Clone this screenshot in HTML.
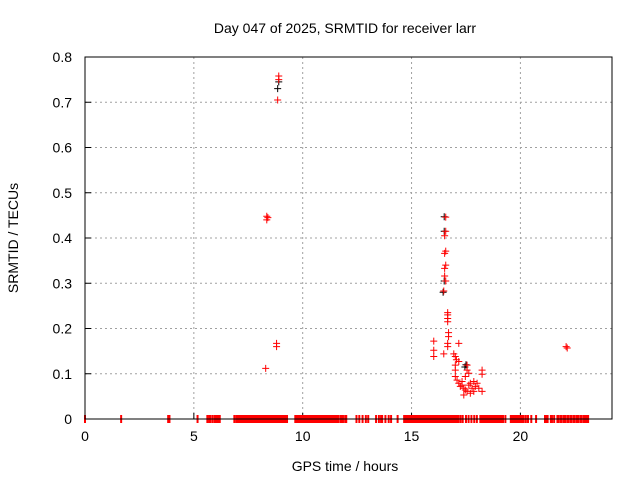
<!DOCTYPE html>
<html><head><meta charset="utf-8"><style>
html,body{margin:0;padding:0;background:#fff;}
svg{display:block;font-family:"Liberation Sans",sans-serif;}
</style></head><body>
<svg id="chart" width="640" height="480" viewBox="0 0 640 480">
<text x="345" y="33" font-size="14" text-anchor="middle">Day 047 of 2025, SRMTID for receiver larr</text>
<text x="345" y="471" font-size="14" text-anchor="middle">GPS time / hours</text>
<text x="18" y="238" font-size="14" text-anchor="middle" transform="rotate(-90 18 238)">SRMTID / TECUs</text>
<g id="grid"></g><g id="ticks"></g><g id="marks"></g>
<rect x="85" y="57" width="527" height="362" fill="none" stroke="#000" stroke-width="1"/>
</svg>
<script>
const xTicks=[0,5,10,15,20];
const yTicks=[0,0.1,0.2,0.3,0.4,0.5,0.6,0.7,0.8];
const yTickLabels=["0","0.1","0.2","0.3","0.4","0.5","0.6","0.7","0.8"];
const blackX=[8.85,8.9,16.5,16.5,16.5,16.45,17.5,17.45];
const blackY=[0.73,0.745,0.447,0.415,0.305,0.28,0.12,0.115];
const redX=[8.3,8.35,8.4,8.35,8.8,8.8,8.85,8.9,8.9,
16.57,16.57,16.52,16.57,16.52,16.57,16.52,16.52,16.57,16.48,16.66,16.66,16.66,16.66,16.70,16.70,16.66,16.66,16.02,16.02,16.02,16.48,17.17,16.94,17.01,17.06,17.01,17.01,17.01,17.09,17.17,17.24,17.32,17.40,17.47,17.40,17.55,17.63,17.70,17.78,17.86,17.93,18.01,18.09,18.24,17.55,17.55,17.63,17.47,18.24,18.24,17.17,17.32,17.70,17.86,22.1,22.15];
const redY=[0.112,0.44,0.445,0.448,0.16,0.167,0.705,0.75,0.758,
0.446,0.415,0.405,0.371,0.366,0.340,0.333,0.316,0.305,0.283,0.235,0.230,0.222,0.215,0.191,0.182,0.167,0.160,0.172,0.152,0.138,0.144,0.167,0.144,0.138,0.131,0.119,0.108,0.094,0.086,0.079,0.072,0.075,0.068,0.064,0.053,0.061,0.075,0.079,0.068,0.061,0.072,0.079,0.068,0.061,0.119,0.108,0.101,0.094,0.108,0.099,0.127,0.083,0.057,0.083,0.16,0.157];
const zeroX=[0,1.66,3.82,3.88,5.17,5.62,5.7,5.75,5.85,5.95,6.0,6.05,6.1,6.15,6.19,6.86,6.95,7.0,7.05,7.1,7.15,7.2,7.25,7.3,7.35,7.4,7.45,7.5,7.55,7.6,7.65,7.7,7.75,7.8,7.85,7.9,7.95,8.0,8.05,8.1,8.15,8.2,8.25,8.3,8.35,8.4,8.45,8.5,8.55,8.6,8.65,8.7,8.75,8.8,8.85,8.9,8.95,9.0,9.05,9.1,9.15,9.2,9.28,9.66,9.7,9.75,9.8,9.85,9.9,9.95,10.0,10.05,10.1,10.15,10.2,10.25,10.3,10.35,10.4,10.45,10.5,10.55,10.6,10.65,10.7,10.75,10.8,10.85,10.9,10.95,11.0,11.05,11.1,11.15,11.2,11.25,11.3,11.35,11.4,11.45,11.5,11.55,11.6,11.65,11.75,11.8,11.85,11.95,12.0,12.47,12.6,12.75,12.9,13.01,13.37,13.5,13.6,13.65,13.8,13.95,14.06,14.36,14.66,14.7,14.75,14.8,14.85,14.9,14.95,15.0,15.05,15.1,15.15,15.2,15.25,15.3,15.35,15.4,15.45,15.5,15.55,15.6,15.65,15.7,15.75,15.8,15.85,15.9,15.95,16.0,16.05,16.1,16.15,16.2,16.25,16.3,16.35,16.4,16.45,16.5,16.55,16.6,16.65,16.7,16.75,16.8,16.85,16.9,16.95,17.0,17.05,17.1,17.15,17.25,17.35,17.5,17.62,17.75,17.88,18.0,18.16,18.2,18.25,18.3,18.35,18.4,18.45,18.5,18.55,18.6,18.65,18.7,18.75,18.8,18.85,18.9,18.95,19.0,19.05,19.1,19.15,19.2,19.31,19.56,19.6,19.65,19.7,19.75,19.8,19.85,19.9,19.95,20.0,20.05,20.1,20.15,20.25,20.35,20.5,20.72,21.13,21.2,21.25,21.4,21.45,21.55,21.7,21.75,21.85,21.9,22.0,22.05,22.15,22.2,22.3,22.35,22.45,22.5,22.6,22.65,22.75,22.8,22.9,22.95,23.0,23.05,23.11];
const X=h=>85+h*21.77;
const Y=v=>419-v*452.5;
const NS="http://www.w3.org/2000/svg";
function mk(tag,attrs,parent){const e=document.createElementNS(NS,tag);for(const k in attrs)e.setAttribute(k,attrs[k]);parent.appendChild(e);return e;}
const grid=document.getElementById('grid'),ticks=document.getElementById('ticks'),marks=document.getElementById('marks');
xTicks.forEach(t=>{
  const x=X(t);
  if(t>0){const g=mk('line',{x1:x,y1:57,x2:x,y2:419,stroke:'#a0a0a0','stroke-dasharray':'2,3'},grid);
  
  }
  const tl=mk('line',{x1:x,y1:419,x2:x,y2:413,stroke:'#000'},ticks);
  
  
  const tx=mk('text',{x:x,y:441,'font-size':14,'text-anchor':'middle'},ticks);tx.textContent=t;
  
  
});
yTicks.forEach((t,i)=>{
  const y=Y(t);
  if(t>0&&t<0.8){const g=mk('line',{x1:85,y1:y,x2:612,y2:y,stroke:'#a0a0a0','stroke-dasharray':'2,3'},grid);
  
  }
  const tl=mk('line',{x1:85,y1:y,x2:91,y2:y,stroke:'#000'},ticks);
  
  
  const tx=mk('text',{x:72,y:y+5,'font-size':14,'text-anchor':'end'},ticks);tx.textContent=yTickLabels[i];
  
  
});
mk('line',{x1:85,y1:419,x2:612,y2:419,stroke:'#000'},ticks);
function plus(x,y,col,name){
  const p=mk('path',{d:`M${x-3.5},${y}h7M${x},${y-3.5}v7`,stroke:col,'stroke-width':1},marks);
  
  
}
zeroX.forEach(h=>{const p=mk('line',{x1:X(h),y1:415,x2:X(h),y2:423,stroke:'red','stroke-width':2},marks);
  
  });
blackX.forEach((h,i)=>plus(X(h),Y(blackY[i]),'#000','black-point'));
redX.forEach((h,i)=>plus(X(h),Y(redY[i]),'red','red-point'));
mk('line',{x1:85,y1:419,x2:612,y2:419,stroke:'#000'},marks);
</script>
</body></html>
